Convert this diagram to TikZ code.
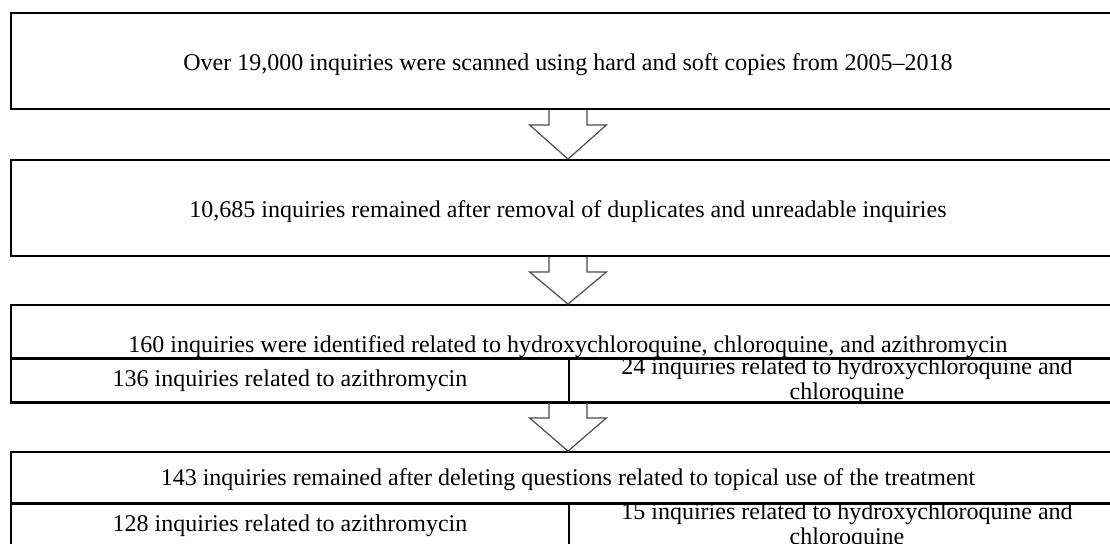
\documentclass[tikz,border=0pt]{standalone}
\usepackage{fontspec}
\setmainfont{Liberation Serif}
\usetikzlibrary{calc,positioning}

\begin{document}
\begin{tikzpicture}[x=0.5pt,y=-0.5pt,{stepbox/.style={rectangle,draw=black,line width=0.9pt,minimum width=557pt,inner sep=0pt,text height=9pt,text depth=0pt,font=\fontsize{12}{12.5}\selectfont}},{cellbox/.style={rectangle,draw=black,line width=0.7pt,inner xsep=0pt,inner ysep=-1pt,minimum height=22pt,align=center,font=\fontsize{12}{12.5}\selectfont}},{flowst/.style={draw=black!70,line width=0.6pt,line join=miter}}]
	\useasboundingbox (0,0) rectangle (1110,543);
	%%outer boxes
	\node [stepbox,minimum height=48pt] (box1) at (568,61) {Over 19,000 inquiries were scanned using hard and soft copies from 2005--2018};
	\node [stepbox,minimum height=48pt] (box2) at (568,208) {10,685 inquiries remained after removal of duplicates and unreadable inquiries};
	\node [stepbox,minimum height=48.5pt] (box3) at (568,353.5) {};
	\node [stepbox,minimum height=47.5pt] (box4) at (568,499.5) {};
	%%table rows of box 3
	\node [cellbox,minimum width=557pt,inner ysep=0pt,text height=24pt,text depth=2.5pt,anchor=north] (row3) at (box3.north) {160 inquiries were identified related to hydroxychloroquine, chloroquine, and azithromycin};
	\node [cellbox,minimum width=279pt,anchor=north west] (azi3) at (row3.south west) {136 inquiries related to azithromycin};
	\node [cellbox,minimum width=278pt,anchor=north east] (hcq3) at (row3.south east) {24 inquiries related to hydroxychloroquine and\\chloroquine};
	%%table rows of box 4
	\node [cellbox,minimum width=557pt,minimum height=25.5pt,text height=8.5pt,text depth=0pt,anchor=north] (row4) at (box4.north) {143 inquiries remained after deleting questions related to topical use of the treatment};
	\node [cellbox,minimum width=279pt,anchor=north west] (azi4) at (row4.south west) {128 inquiries related to azithromycin};
	\node [cellbox,minimum width=278pt,anchor=north east] (hcq4) at (row4.south east) {15 inquiries related to hydroxychloroquine and\\chloroquine};
	%%block arrows
	\foreach \src/\dst in {box1/box2,box2/box3,box3/box4}
		\draw [flowst] ($(\src.south)+(-19,0)$) -- ++(0,15) -- ++(-19.5,0) -- (\dst.north) -- ($(\src.south)+(38.5,15)$) -- ++(-19.5,0) -- ++(0,-15);
\end{tikzpicture}
\end{document}
